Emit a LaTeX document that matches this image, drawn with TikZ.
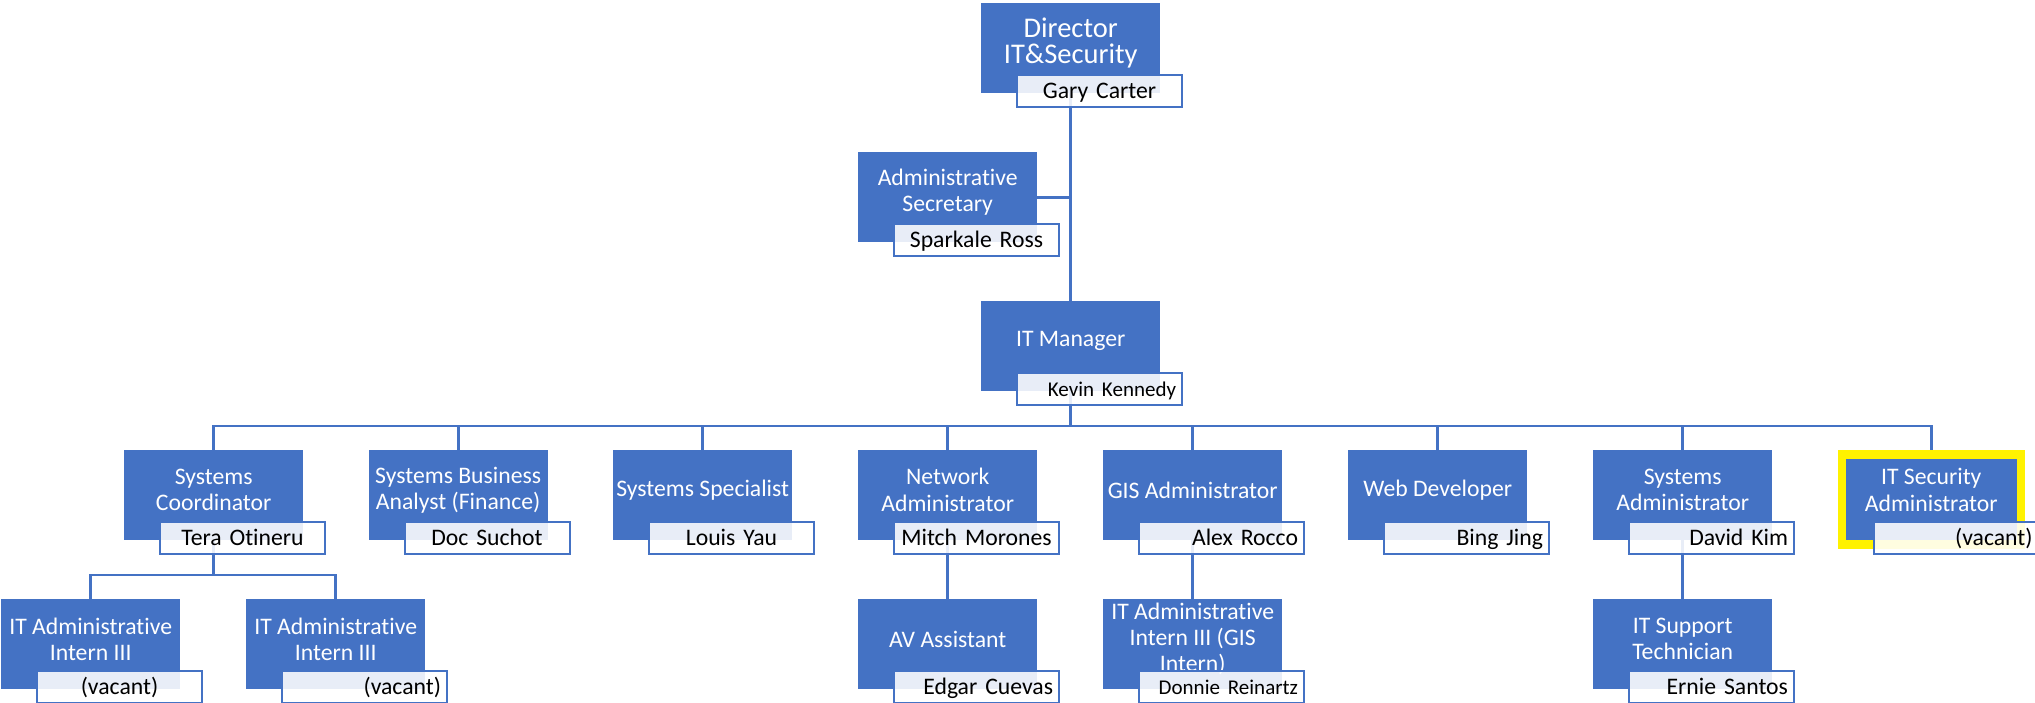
\documentclass[tikz,border=0pt]{standalone}
\usepackage{fontspec}
\setmainfont{Carlito}[Ligatures=NoCommon]
\usetikzlibrary{calc}
\pgfdeclarelayer{background}
\pgfsetlayers{background,main}
\definecolor{orgblue}{HTML}{4472C4}
\tikzset{
  post/.style={anchor=north west, fill=orgblue, minimum width=179pt, minimum height=90pt, inner sep=0pt},
  ttl/.style={text=white, align=center, inner sep=0pt, font=\fontsize{23.7}{26.3}\selectfont},
  holder/.style={anchor=north west, draw=orgblue, line width=2pt, fill=white, fill opacity=0.88, text opacity=1,
    text=black, text width=153pt, inner xsep=6pt, inner ysep=0pt, minimum height=32pt,
    text height=18pt, text depth=2.7pt, font=\fontsize{23.7}{26.3}\selectfont},
  link/.style={draw=orgblue, line width=2.8pt},
  hilite/.style={draw=yellow, line width=8.5pt}
}
\newcommand{\dirfont}{\fontsize{28.5}{31}\selectfont}
\newcommand{\smallname}{\fontsize{21}{24}\selectfont}
% box, title and name plate of one post
\newcommand{\orgpost}[6][]{%
  \node[post,#1] (#2) at (#3) {};
  \node[ttl] at ($(#2.north)+(0,40)$) {#4};
  \node[holder,align=#6] (#2n) at ($(#2.north west)+(35,71)$) {#5};
}

\begin{document}
\begin{tikzpicture}[x=1pt,y=-1pt]
  \useasboundingbox (0,0) rectangle (2035,702);

  %%%%% TOP %%%%%
  \orgpost{dir}{981,3}{\dirfont Director\\\dirfont IT\&Security}{Gary Carter}{center}
  \orgpost{sec}{858,152}{Administrative\\Secretary}{Sparkale Ross}{center}
  \orgpost{mgr}{981,301}{IT Manager}{\smallname Kevin Kennedy}{right}

  %%%%% STAFF %%%%%
  \orgpost{coord}{124,450}{Systems\\Coordinator}{Tera Otineru}{center}
  \orgpost{analyst}{368.5,450}{Systems Business\\Analyst (Finance)}{Doc Suchot}{center}
  \orgpost{spec}{613,450}{Systems Specialist}{Louis Yau}{center}
  \orgpost{net}{858,450}{Network\\Administrator}{Mitch Morones}{center}
  \orgpost{gis}{1103,450}{GIS Administrator}{Alex Rocco}{right}
  \orgpost{web}{1348,450}{Web Developer}{Bing Jing}{right}
  \orgpost{sysadm}{1593,450}{Systems\\Administrator}{David Kim}{right}
  \orgpost[hilite]{secadm}{1837.5,450}{IT Security\\Administrator}{(vacant)}{right}

  %%%%% THIRD ROW %%%%%
  \orgpost{intA}{1,599}{IT Administrative\\Intern III}{(vacant)}{center}
  \orgpost{intB}{246,599}{IT Administrative\\Intern III}{(vacant)}{right}
  \orgpost{av}{858,599}{AV Assistant}{Edgar Cuevas}{right}
  \orgpost{gisint}{1103,599}{IT Administrative\\Intern III (GIS\\Intern)}{\smallname Donnie Reinartz}{right}
  \orgpost{tech}{1593,599}{IT Support\\Technician}{Ernie Santos}{right}

  %%%%% LINES %%%%%
  \coordinate (bus) at (0,426);
  \coordinate (sub) at (0,575);
  \begin{pgfonlayer}{background}
    \draw[link] (dir.center) -- (mgr.center);
    \draw[link] (sec.center) -- (sec.center -| dir.center);
    \foreach \k in {coord,analyst,spec,net,gis,web,sysadm,secadm}
      \draw[link] (mgr.center) |- (bus -| \k.center) -- (\k.center);
    \foreach \k in {intA,intB}
      \draw[link] (coord.center) |- (sub -| \k.center) -- (\k.center);
    \draw[link] (net.center) -- (av.center);
    \draw[link] (gis.center) -- (gisint.center);
    \draw[link] (sysadm.center) -- (tech.center);
  \end{pgfonlayer}
\end{tikzpicture}
\end{document}
